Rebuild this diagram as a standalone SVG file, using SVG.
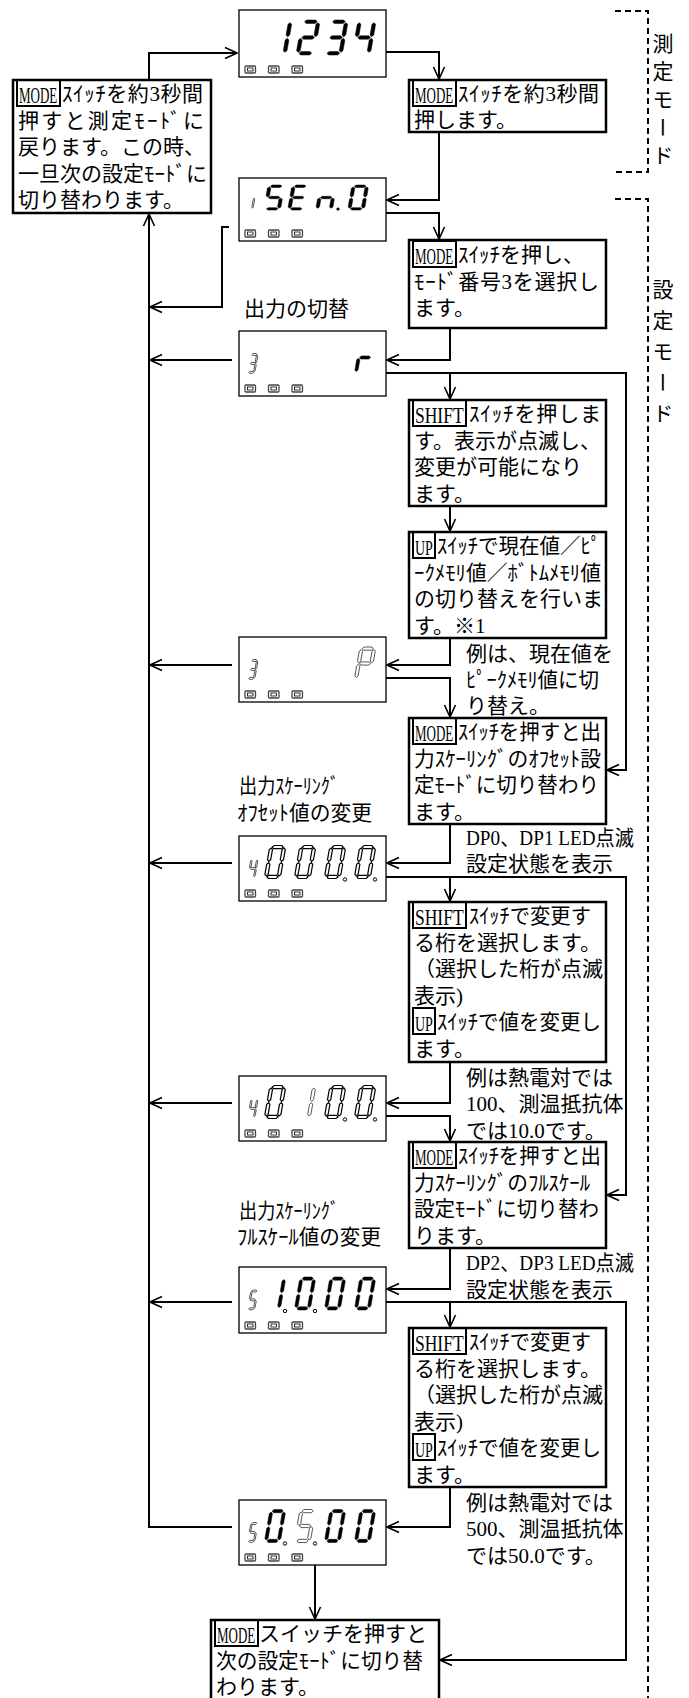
<svg xmlns="http://www.w3.org/2000/svg" width="689" height="1698" viewBox="0 0 689 1698">
<style>
.box{fill:#fff;stroke:#000;stroke-width:2.5}
.disp{fill:#fff;stroke:#000;stroke-width:1.3}
.kb{fill:none;stroke:#000;stroke-width:2}
.t{font-family:"Liberation Serif","Noto Sans CJK JP",serif;font-size:21px;fill:#000}
.km{font-family:"Liberation Serif",serif;font-size:13px;fill:#000}
.ks{font-family:"Liberation Serif",serif;font-size:17.5px;fill:#000}
.ku{font-family:"Liberation Serif",serif;font-size:14px;fill:#000}
.v{font-family:"Noto Sans CJK JP",sans-serif;font-size:21px;writing-mode:vertical-rl;fill:#000}
.ln{fill:none;stroke:#000;stroke-width:2;marker-end:url(#ah)}
.dash{fill:none;stroke:#000;stroke-width:2;stroke-dasharray:6 4}
.sol{fill:#000;stroke:#000;stroke-width:.5}
.hol{fill:#fff;stroke:#000;stroke-width:1.2}
.dim{fill:#fff;stroke:#444;stroke-width:.9}
.dp{fill:#fff;stroke:#000;stroke-width:1}
.ledo{fill:#fff;stroke:#444;stroke-width:1.3}
.ledi{fill:none;stroke:#000;stroke-width:.8}
</style>
<defs>
<marker id="ah" viewBox="0 0 14 14" refX="13" refY="7" markerWidth="14" markerHeight="14" markerUnits="userSpaceOnUse" orient="auto"><path d="M1,1.5 L13,7 L1,12.5" fill="none" stroke="#000" stroke-width="1.6"/></marker>
<polygon id="sa" vector-effect="non-scaling-stroke" points="2.5,1.6 4.1,0 11.9,0 13.5,1.6 11.9,3.2 4.1,3.2"/>
<polygon id="sg" vector-effect="non-scaling-stroke" points="2.5,16.5 4.1,14.9 11.9,14.9 13.5,16.5 11.9,18.1 4.1,18.1"/>
<polygon id="sd" vector-effect="non-scaling-stroke" points="2.5,31.4 4.1,29.8 11.9,29.8 13.5,31.4 11.9,33 4.1,33"/>
<polygon id="sf" vector-effect="non-scaling-stroke" points="1.6,2.5 3.2,4.1 3.2,14.2 1.6,15.8 0,14.2 0,4.1"/>
<polygon id="sb" vector-effect="non-scaling-stroke" points="14.4,2.5 16,4.1 16,14.2 14.4,15.8 12.8,14.2 12.8,4.1"/>
<polygon id="se" vector-effect="non-scaling-stroke" points="1.6,17.2 3.2,18.8 3.2,28.9 1.6,30.5 0,28.9 0,18.8"/>
<polygon id="sc" vector-effect="non-scaling-stroke" points="14.4,17.2 16,18.8 16,28.9 14.4,30.5 12.8,28.9 12.8,18.8"/>
<g id="n0"><use href="#sa"/><use href="#sb"/><use href="#sc"/><use href="#sd"/><use href="#se"/><use href="#sf"/></g>
<g id="n1"><use href="#sb"/><use href="#sc"/></g>
<g id="n2"><use href="#sa"/><use href="#sb"/><use href="#sg"/><use href="#se"/><use href="#sd"/></g>
<g id="n3"><use href="#sa"/><use href="#sb"/><use href="#sg"/><use href="#sc"/><use href="#sd"/></g>
<g id="n4"><use href="#sf"/><use href="#sg"/><use href="#sb"/><use href="#sc"/></g>
<g id="n5"><use href="#sa"/><use href="#sf"/><use href="#sg"/><use href="#sc"/><use href="#sd"/></g>
<g id="nE"><use href="#sa"/><use href="#sf"/><use href="#sg"/><use href="#se"/><use href="#sd"/></g>
<g id="nn"><use href="#se"/><use href="#sg"/><use href="#sc"/></g>
<g id="nr"><use href="#se"/><use href="#sg"/></g>
<g id="nP"><use href="#sa"/><use href="#sb"/><use href="#sf"/><use href="#sg"/><use href="#se"/></g>
<g id="leds">
<rect class="ledo" x="6" y="0" width="10.5" height="7" rx="1"/><rect class="ledi" x="8.5" y="2" width="5.5" height="3"/>
<rect class="ledo" x="29.5" y="0" width="10.5" height="7" rx="1"/><rect class="ledi" x="32" y="2" width="5.5" height="3"/>
<rect class="ledo" x="53" y="0" width="10.5" height="7" rx="1"/><rect class="ledi" x="55.5" y="2" width="5.5" height="3"/>
</g>
</defs>
<rect width="689" height="1698" fill="#fff"/>

<g id="connectors">
<polyline class="ln" points="149,80 149,53 237,53"/>
<polyline class="ln" points="385,52 439,52 439,79"/>
<polyline class="ln" points="439,132 439,200 387,200"/>
<polyline class="ln" points="386,213 439,213 439,239"/>
<polyline class="ln" points="229,227 222,227 222,307 150,307"/>
<polyline class="ln" points="450,328 450,360 387,360"/>
<polyline class="ln" points="232,360 150,360"/>
<polyline class="ln" points="386,373 626,373 626,770 607,770"/>
<polyline class="ln" points="450,373 450,399"/>
<polyline class="ln" points="450,506 450,531"/>
<polyline class="ln" points="450,638 450,665 387,665"/>
<polyline class="ln" points="232,665 150,665"/>
<polyline class="ln" points="386,678 450,678 450,717"/>
<polyline class="ln" points="450,824 450,863 387,863"/>
<polyline class="ln" points="232,863 150,863"/>
<polyline class="ln" points="386,877 626,877 626,1195 607,1195"/>
<polyline class="ln" points="450,877 450,901"/>
<polyline class="ln" points="450,1062 450,1103 387,1103"/>
<polyline class="ln" points="232,1103 150,1103"/>
<polyline class="ln" points="386,1116 450,1116 450,1141"/>
<polyline class="ln" points="450,1248 450,1289 387,1289"/>
<polyline class="ln" points="232,1302 150,1302"/>
<polyline class="ln" points="386,1302 626,1302 626,1660 440,1660"/>
<polyline class="ln" points="450,1302 450,1327"/>
<polyline class="ln" points="450,1487 450,1527 387,1527"/>
<polyline class="ln" points="232,1527 149,1527 149,214"/>
<polyline class="ln" points="315,1565 315,1619"/>
</g>

<g id="mode-brackets">
<polyline class="dash" points="615,11 648,11 648,172 615,172"/>
<polyline class="dash" points="615,199 648,199 648,1698"/>
<text class="v" x="663" y="33" letter-spacing="7">測定モード</text>
<text class="v" x="663" y="279" letter-spacing="10">設定モード</text>
</g>

<g id="disp1"><title>1234</title>
<rect class="disp" x="239" y="10" width="147" height="67"/>
<use href="#n1" class="sol" transform="translate(274,20) skewX(-10) scale(1.15,1.06)"/>
<use href="#n2" class="sol" transform="translate(302,20) skewX(-10) scale(1.15,1.06)"/>
<use href="#n3" class="sol" transform="translate(330,20) skewX(-10) scale(1.15,1.06)"/>
<use href="#n4" class="sol" transform="translate(358,20) skewX(-10) scale(1.15,1.06)"/>
<use href="#leds" transform="translate(239,66)"/>
</g>

<g id="disp2"><title>1SEn.0</title>
<rect class="disp" x="239" y="178" width="147" height="63"/>
<use href="#sc" class="dim" transform="translate(250,185) skewX(-10) scale(.45,.76)"/>
<use href="#n5" class="sol" transform="translate(268,185) skewX(-10) scale(1.05,.76)"/>
<use href="#nE" class="sol" transform="translate(292,185) skewX(-10) scale(1.05,.76)"/>
<use href="#nn" class="sol" transform="translate(320,185) skewX(-10) scale(1.05,.76)"/>
<use href="#n0" class="sol" transform="translate(352,185) skewX(-10) scale(1.05,.76)"/>
<circle cx="338" cy="209" r="1.6" fill="#000"/>
<use href="#leds" transform="translate(239,230)"/>
</g>

<g id="disp3"><title>3 r</title>
<rect class="disp" x="239" y="331" width="147" height="65"/>
<use href="#n3" class="dim" transform="translate(251,353.5) skewX(-10) scale(.45,.6)"/>
<use href="#nr" class="sol" transform="translate(360,341) skewX(-10)"/>
<use href="#leds" transform="translate(239,385)"/>
</g>

<g id="disp4"><title>3 P</title>
<rect class="disp" x="239" y="637" width="147" height="65"/>
<use href="#n3" class="dim" transform="translate(251,659.5) skewX(-10) scale(.45,.6)"/>
<use href="#nP" class="dim" transform="translate(360,647) skewX(-10)"/>
<use href="#leds" transform="translate(239,691)"/>
</g>

<g id="disp5"><title>4 000.0.</title>
<rect class="disp" x="239" y="836" width="147" height="65"/>
<use href="#n4" class="dim" transform="translate(251,858.5) skewX(-10) scale(.45,.6)"/>
<use href="#n0" class="hol" transform="translate(270,845.5) skewX(-10)"/>
<use href="#n0" class="hol" transform="translate(300,845.5) skewX(-10)"/>
<use href="#n0" class="hol" transform="translate(330,845.5) skewX(-10)"/>
<use href="#n0" class="hol" transform="translate(360,845.5) skewX(-10)"/>
<circle class="dp" cx="345" cy="879.5" r="1.7"/><circle class="dp" cx="375" cy="879.5" r="1.7"/>
<use href="#leds" transform="translate(239,890)"/>
</g>

<g id="disp6"><title>4 010.0.</title>
<rect class="disp" x="239" y="1076" width="147" height="65"/>
<use href="#n4" class="dim" transform="translate(251,1098.5) skewX(-10) scale(.45,.6)"/>
<use href="#n0" class="hol" transform="translate(270,1085.5) skewX(-10)"/>
<use href="#n1" class="dim" transform="translate(300,1085.5) skewX(-10)"/>
<use href="#n0" class="hol" transform="translate(330,1085.5) skewX(-10)"/>
<use href="#n0" class="hol" transform="translate(360,1085.5) skewX(-10)"/>
<circle class="dp" cx="345" cy="1119.5" r="1.7"/><circle class="dp" cx="375" cy="1119.5" r="1.7"/>
<use href="#leds" transform="translate(239,1130)"/>
</g>

<g id="disp7"><title>5 1.0.00</title>
<rect class="disp" x="239" y="1267" width="147" height="66"/>
<use href="#n5" class="dim" transform="translate(251,1290) skewX(-10) scale(.45,.6)"/>
<use href="#n1" class="sol" transform="translate(270,1277) skewX(-10)"/>
<use href="#n0" class="sol" transform="translate(300,1277) skewX(-10)"/>
<use href="#n0" class="sol" transform="translate(330,1277) skewX(-10)"/>
<use href="#n0" class="sol" transform="translate(360,1277) skewX(-10)"/>
<circle class="dp" cx="285" cy="1311" r="1.7"/><circle class="dp" cx="315" cy="1311" r="1.7"/>
<use href="#leds" transform="translate(239,1322)"/>
</g>

<g id="disp8"><title>5 0.5.00</title>
<rect class="disp" x="239" y="1500" width="147" height="65"/>
<use href="#n5" class="dim" transform="translate(251,1522.5) skewX(-10) scale(.45,.6)"/>
<use href="#n0" class="sol" transform="translate(270,1509.5) skewX(-10)"/>
<use href="#n5" class="dim" transform="translate(300,1509.5) skewX(-10)"/>
<use href="#n0" class="sol" transform="translate(330,1509.5) skewX(-10)"/>
<use href="#n0" class="sol" transform="translate(360,1509.5) skewX(-10)"/>
<circle class="dp" cx="285" cy="1543.5" r="1.7"/><circle class="dp" cx="315" cy="1543.5" r="1.7"/>
<use href="#leds" transform="translate(239,1554)"/>
</g>

<g id="boxL">
<rect class="box" x="13" y="80" width="198" height="133"/>
<rect class="kb" x="17" y="80" width="43" height="26"/>
<text class="km" transform="translate(19,103) scale(1,1.7)">MODE</text>
<text class="t" x="62" y="101" textLength="141" lengthAdjust="spacing">ｽｲｯﾁを約3秒間</text>
<text class="t" x="18" y="127.5" textLength="186" lengthAdjust="spacing">押すと測定ﾓｰﾄﾞに</text>
<text class="t" x="18" y="154">戻ります。この時、</text>
<text class="t" x="18" y="180.5">一旦次の設定ﾓｰﾄﾞに</text>
<text class="t" x="18" y="207">切り替わります。</text>
</g>

<g id="boxA">
<rect class="box" x="409" y="80" width="197" height="52"/>
<rect class="kb" x="413" y="80" width="43" height="26"/>
<text class="km" transform="translate(415,103) scale(1,1.7)">MODE</text>
<text class="t" x="458" y="101" textLength="141" lengthAdjust="spacing">ｽｲｯﾁを約3秒間</text>
<text class="t" x="414" y="127">押します。</text>
</g>

<g id="boxB">
<rect class="box" x="409" y="240" width="197" height="88"/>
<rect class="kb" x="413" y="241" width="43" height="26"/>
<text class="km" transform="translate(415,264) scale(1,1.7)">MODE</text>
<text class="t" x="458" y="262">ｽｲｯﾁを押し、</text>
<text class="t" x="414" y="288.5" textLength="185" lengthAdjust="spacing">ﾓｰﾄﾞ番号3を選択し</text>
<text class="t" x="414" y="315">ます。</text>
</g>

<g id="label-switch"><text class="t" x="244" y="316">出力の切替</text></g>

<g id="boxC">
<rect class="box" x="409" y="400" width="197" height="106"/>
<rect class="kb" x="413" y="400" width="53" height="26"/>
<text class="ks" transform="translate(415,423) scale(1,1.26)">SHIFT</text>
<text class="t" x="469" y="421" textLength="132" lengthAdjust="spacing">ｽｲｯﾁを押しま</text>
<text class="t" x="414" y="447.5">す。表示が点滅し、</text>
<text class="t" x="414" y="474">変更が可能になり</text>
<text class="t" x="414" y="500.5">ます。</text>
</g>

<g id="boxD">
<rect class="box" x="409" y="532" width="197" height="106"/>
<rect class="kb" x="413" y="532" width="22" height="26"/>
<text class="ku" transform="translate(415,555) scale(1,1.57)">UP</text>
<text class="t" x="437" y="553" textLength="164" lengthAdjust="spacingAndGlyphs">ｽｲｯﾁで現在値／ﾋﾟ</text>
<text class="t" x="414" y="579.5" textLength="187" lengthAdjust="spacingAndGlyphs">ｰｸﾒﾓﾘ値／ﾎﾞﾄﾑﾒﾓﾘ値</text>
<text class="t" x="414" y="606">の切り替えを行いま</text>
<text class="t" x="414" y="632.5">す。※1</text>
</g>

<g id="note-peak">
<text class="t" x="466" y="661">例は、現在値を</text>
<text class="t" x="466" y="687" textLength="133" lengthAdjust="spacingAndGlyphs">ﾋﾟｰｸﾒﾓﾘ値に切</text>
<text class="t" x="466" y="713">り替え。</text>
</g>

<g id="boxE">
<rect class="box" x="409" y="718" width="197" height="106"/>
<rect class="kb" x="413" y="718" width="43" height="26"/>
<text class="km" transform="translate(415,741) scale(1,1.7)">MODE</text>
<text class="t" x="458" y="739" textLength="143" lengthAdjust="spacingAndGlyphs">ｽｲｯﾁを押すと出</text>
<text class="t" x="414" y="765.5" textLength="187" lengthAdjust="spacingAndGlyphs">力ｽｹｰﾘﾝｸﾞのｵﾌｾｯﾄ設</text>
<text class="t" x="414" y="792" textLength="185" lengthAdjust="spacingAndGlyphs">定ﾓｰﾄﾞに切り替わり</text>
<text class="t" x="414" y="818.5">ます。</text>
</g>

<g id="label-offset">
<text class="t" x="239" y="793" textLength="100" lengthAdjust="spacingAndGlyphs">出力ｽｹｰﾘﾝｸﾞ</text>
<text class="t" x="237" y="820" textLength="135" lengthAdjust="spacingAndGlyphs">ｵﾌｾｯﾄ値の変更</text>
</g>

<g id="note-dp01">
<text class="t" x="466" y="845" textLength="168" lengthAdjust="spacingAndGlyphs">DP0、DP1 LED点滅</text>
<text class="t" x="466" y="871">設定状態を表示</text>
</g>

<g id="boxF">
<rect class="box" x="409" y="902" width="197" height="160"/>
<rect class="kb" x="413" y="902" width="53" height="26"/>
<text class="ks" transform="translate(415,925) scale(1,1.26)">SHIFT</text>
<text class="t" x="469" y="923" textLength="122" lengthAdjust="spacingAndGlyphs">ｽｲｯﾁで変更す</text>
<text class="t" x="414" y="949.5">る桁を選択します。</text>
<text class="t" x="414" y="976">（選択した桁が点滅</text>
<text class="t" x="414" y="1002.5">表示)</text>
<rect class="kb" x="413" y="1008" width="22" height="26"/>
<text class="ku" transform="translate(415,1031) scale(1,1.57)">UP</text>
<text class="t" x="437" y="1029" textLength="164" lengthAdjust="spacingAndGlyphs">ｽｲｯﾁで値を変更し</text>
<text class="t" x="414" y="1055.5">ます。</text>
</g>

<g id="note-100">
<text class="t" x="466" y="1085">例は熱電対では</text>
<text class="t" x="466" y="1111">100、測温抵抗体</text>
<text class="t" x="466" y="1138">では10.0です。</text>
</g>

<g id="boxG">
<rect class="box" x="409" y="1142" width="197" height="106"/>
<rect class="kb" x="413" y="1142" width="43" height="26"/>
<text class="km" transform="translate(415,1165) scale(1,1.7)">MODE</text>
<text class="t" x="458" y="1163" textLength="143" lengthAdjust="spacingAndGlyphs">ｽｲｯﾁを押すと出</text>
<text class="t" x="414" y="1189.5" textLength="176" lengthAdjust="spacingAndGlyphs">力ｽｹｰﾘﾝｸﾞのﾌﾙｽｹｰﾙ</text>
<text class="t" x="414" y="1216" textLength="185" lengthAdjust="spacingAndGlyphs">設定ﾓｰﾄﾞに切り替わ</text>
<text class="t" x="414" y="1242.5">ります。</text>
</g>

<g id="label-full">
<text class="t" x="239" y="1218" textLength="100" lengthAdjust="spacingAndGlyphs">出力ｽｹｰﾘﾝｸﾞ</text>
<text class="t" x="237" y="1244" textLength="144" lengthAdjust="spacingAndGlyphs">ﾌﾙｽｹｰﾙ値の変更</text>
</g>

<g id="note-dp23">
<text class="t" x="466" y="1270" textLength="168" lengthAdjust="spacingAndGlyphs">DP2、DP3 LED点滅</text>
<text class="t" x="466" y="1297">設定状態を表示</text>
</g>

<g id="boxH">
<rect class="box" x="409" y="1328" width="197" height="159"/>
<rect class="kb" x="413" y="1328" width="53" height="26"/>
<text class="ks" transform="translate(415,1351) scale(1,1.26)">SHIFT</text>
<text class="t" x="469" y="1349" textLength="122" lengthAdjust="spacingAndGlyphs">ｽｲｯﾁで変更す</text>
<text class="t" x="414" y="1375.5">る桁を選択します。</text>
<text class="t" x="414" y="1402">（選択した桁が点滅</text>
<text class="t" x="414" y="1428.5">表示)</text>
<rect class="kb" x="413" y="1434" width="22" height="26"/>
<text class="ku" transform="translate(415,1457) scale(1,1.57)">UP</text>
<text class="t" x="437" y="1455" textLength="164" lengthAdjust="spacingAndGlyphs">ｽｲｯﾁで値を変更し</text>
<text class="t" x="414" y="1481.5">ます。</text>
</g>

<g id="note-500">
<text class="t" x="466" y="1510">例は熱電対では</text>
<text class="t" x="466" y="1536">500、測温抵抗体</text>
<text class="t" x="466" y="1563">では50.0です。</text>
</g>

<g id="boxZ">
<rect class="box" x="211" y="1620" width="228" height="100"/>
<rect class="kb" x="215" y="1620" width="43" height="26"/>
<text class="km" transform="translate(217,1643) scale(1,1.7)">MODE</text>
<text class="t" x="259" y="1641">スイッチを押すと</text>
<text class="t" x="216" y="1667.5" textLength="207" lengthAdjust="spacingAndGlyphs">次の設定ﾓｰﾄﾞに切り替</text>
<text class="t" x="216" y="1694">わります。</text>
</g>
</svg>
